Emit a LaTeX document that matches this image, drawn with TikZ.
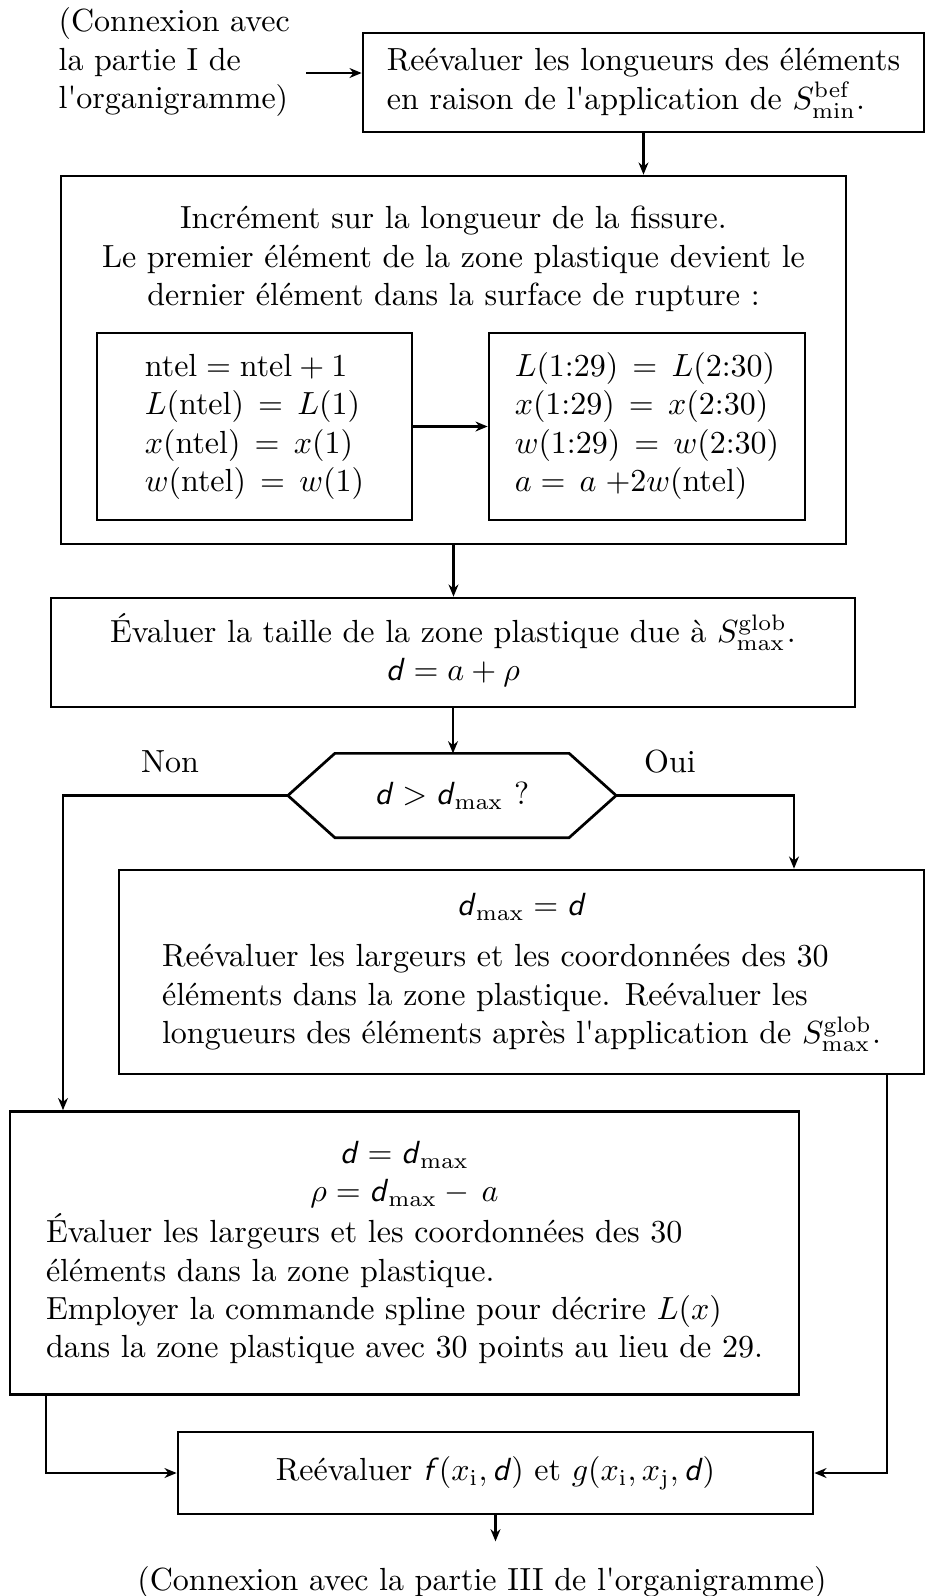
\documentclass[tikz,border=0pt]{standalone}
\usepackage{amsmath}
\usetikzlibrary{arrows.meta,calc}
\newcommand{\dd}{\textsf{\textit{d}}}
\newcommand{\ff}{\textsf{\textit{f}}}
\newcommand{\ap}{\textquotesingle}
\newcommand{\pxu}{0.3125pt}
\begin{document}
\begin{tikzpicture}[x=0.3125pt,y=-0.3125pt,
  box/.style={draw, line width=0.85pt, inner sep=0pt},
  arr/.style={-{Stealth[length=3.8pt,width=3.1pt]}, line width=0.65pt},
  lbl/.style={inner sep=0pt},
  every node/.style={font=\fontsize{10}{12}\selectfont}]
\useasboundingbox (0,0) rectangle (926,1596);

% start text and first box
\node[lbl, anchor=west, align=left] (src) at (58,62) {(Connexion avec\\la partie I de\\l\ap organigramme)};
\node[box, minimum width=561*\pxu, minimum height=99*\pxu] (b1) at (643.5,82.5)
  {\begin{tabular}{@{}l@{}}Reévaluer les longueurs des éléments\\ en raison de l\ap application de $S^{\mathrm{bef}}_{\min}$.\end{tabular}};
\coordinate (a0) at (306,73);
\draw[arr] (a0) -- (a0 -| b1.west);

% big box
\node[box, minimum width=785*\pxu, minimum height=368*\pxu] (b2) at (453.5,360) {};
\node[lbl, align=center] (b2t) at (453.5,259) {Incrément sur la longueur de la fissure.\\Le premier élément de la zone plastique devient le\\dernier élément dans la surface de rupture :};
\draw[arr] (b1.south) -- (b1.south |- b2.north);

\node[box, minimum width=315*\pxu, minimum height=187*\pxu] (il) at (254.5,426.5)
  {\begin{tabular}{@{}l@{}}$\mathrm{ntel} = \mathrm{ntel} + 1$\\ $L(\mathrm{ntel}) \,=\, L(1)$\\ $x(\mathrm{ntel}) \,=\, x(1)$\\ $w(\mathrm{ntel}) \,=\, w(1)$\end{tabular}};
\node[box, minimum width=316*\pxu, minimum height=187*\pxu] (ir) at (647,426.5)
  {\begin{tabular}{@{}l@{}}$L(1{:}29) \,=\, L(2{:}30)$\\ $x(1{:}29) \,=\, x(2{:}30)$\\ $w(1{:}29) \,=\, w(2{:}30)$\\ $a =\, a\; {+}2w(\mathrm{ntel})$\end{tabular}};
\draw[arr] (il.east) -- (ir.west);

% third box
\node[box, minimum width=804*\pxu, minimum height=109*\pxu] (b3) at (453,652.5)
  {\begin{tabular}{@{}c@{}}Évaluer la taille de la zone plastique due à $S^{\mathrm{glob}}_{\max}$.\\ $\dd = a + \rho$\end{tabular}};
\draw[arr] (b2.south) -- (b2.south |- b3.north);

% decision
\node[minimum width=327*\pxu, minimum height=83*\pxu, inner sep=0pt] (dec) at (452,795.5) {$\dd > \dd_{\max}$ ?};
\draw[line width=0.85pt] (dec.west) -- ([xshift=47*\pxu]dec.north west) -- ([xshift=-47*\pxu]dec.north east)
  -- (dec.east) -- ([xshift=-47*\pxu]dec.south east) -- ([xshift=47*\pxu]dec.south west) -- cycle;
\draw[arr] (b3.south) -- (b3.south |- dec.north);
\node[lbl] (non) at (170,762) {Non};
\node[lbl] (oui) at (670,762) {Oui};

% yes box
\node[box, minimum width=805*\pxu, minimum height=204*\pxu] (b4) at (521.5,972)
  {\begin{tabular}{@{}l@{}}\multicolumn{1}{@{}c@{}}{$\dd_{\max} = \dd$}\\[4pt] Reévaluer les largeurs et les coordonnées des 30\\ éléments dans la zone plastique. Reévaluer les\\ longueurs des éléments après l\ap application de $S^{\mathrm{glob}}_{\max}$.\end{tabular}};

% no box
\node[box, minimum width=789*\pxu, minimum height=283*\pxu] (b5) at (404.5,1253)
  {\begin{tabular}{@{}l@{}}\multicolumn{1}{@{}c@{}}{$\dd = \dd_{\max}$}\\ \multicolumn{1}{@{}c@{}}{$\rho = \dd_{\max} -\, a$}\\ Évaluer les largeurs et les coordonnées des 30\\ éléments dans la zone plastique.\\ Employer la commande spline pour décrire $L(x)$\\ dans la zone plastique avec 30 points au lieu de 29.\end{tabular}};

\coordinate (xl) at (63,0);
\coordinate (xr) at (794,0);
\draw[arr] (dec.west) -| (xl |- b5.north);
\draw[arr] (dec.east) -| (xr |- b4.north);

% final box
\node[box, minimum width=635*\pxu, minimum height=82*\pxu] (b6) at (495.5,1473)
  {Reévaluer $\ff(x_{\mathrm{i}}, \dd)$ et $g(x_{\mathrm{i}}, x_{\mathrm{j}}, \dd)$};
\coordinate (xl2) at (46,0);
\coordinate (xr2) at (887,0);
\draw[arr] (xr2 |- b4.south) |- (b6.east);
\draw[arr] (xl2 |- b5.south) |- (b6.west);

\node[lbl] (end) at (482,1582) {(Connexion avec la partie III de l\ap organigramme)};
\draw[arr] (b6.south) -- ([yshift=7.5pt]b6.south |- end.north);
\end{tikzpicture}
\end{document}
